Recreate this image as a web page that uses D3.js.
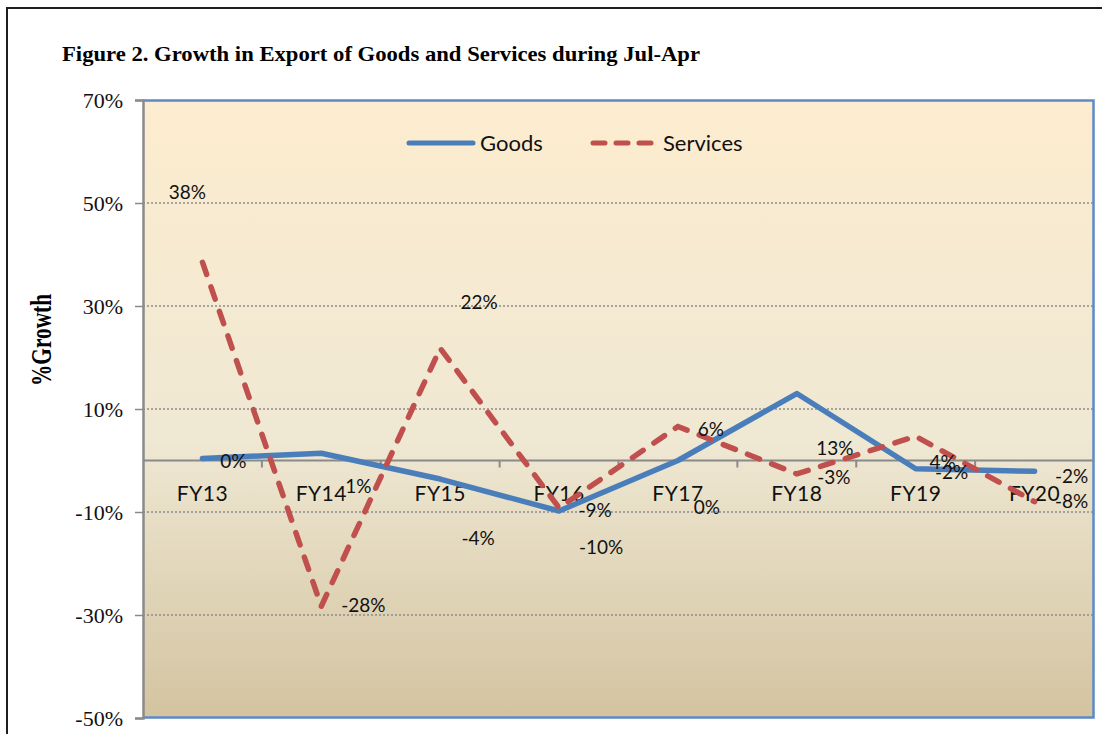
<!DOCTYPE html>
<html>
<head>
<meta charset="utf-8">
<script src="https://cdn.jsdelivr.net/npm/d3@7"></script>
<style>
  body { margin: 0; background: #fff; }
  svg { display: block; }
</style>
</head>
<body>
<div id="chart"></div>
<script>
// chart data
var years = ["FY13", "FY14", "FY15", "FY16", "FY17", "FY18", "FY19", "FY20"];
var goods = [0.4, 1.4, -3.6, -9.8, 0.0, 13.0, -1.6, -2.1];
var services = [38.5, -28.3, 21.8, -9.2, 6.6, -2.6, 4.7, -8.0];
var goodsLabels = ["0%", "1%", "-4%", "-10%", "0%", "13%", "-2%", "-2%"];
var servicesLabels = ["38%", "-28%", "22%", "-9%", "6%", "-3%", "4%", "-8%"];
var yTicks = [-50, -30, -10, 10, 30, 50, 70];

// where the data labels were dragged to, relative to their points (pixels)
var goodsNudge = [[31, 3], [37, 33], [38, 59], [42, 36], [29, 47], [38, 55], [36, 4], [37, 5]];
var servicesNudge = [[-15, -70], [42, -1], [39, -46], [36, 2], [33, 3], [37, 3], [27, 26], [37, 0]];

var svgWidth = 1102;
var svgHeight = 734;

var margin = {
  top: 100,
  right: 8,
  bottom: 16,
  left: 143
};

var width = svgWidth - margin.left - margin.right;
var height = svgHeight - margin.top - margin.bottom;

var svg = d3.select("#chart")
  .append("svg")
  .attr("width", svgWidth)
  .attr("height", svgHeight);

// outer frame (only top and left edges visible)
svg.append("path")
  .attr("d", "M7,734 L7,8 L1102,8")
  .attr("fill", "none")
  .attr("stroke", "#1e1e1e")
  .attr("stroke-width", 2);

// title, condensed bold serif
svg.append("text")
  .attr("x", 62)
  .attr("y", 61)
  .attr("font-family", "Liberation Serif")
  .attr("font-weight", "bold")
  .attr("font-size", 22)
  .attr("textLength", 638)
  .attr("lengthAdjust", "spacingAndGlyphs")
  .text("Figure 2. Growth  in Export  of Goods  and Services during Jul-Apr");

// y axis title
svg.append("text")
  .attr("transform", "translate(51, 340) rotate(-90)")
  .attr("text-anchor", "middle")
  .attr("font-family", "Liberation Serif")
  .attr("font-weight", "bold")
  .attr("font-size", 30)
  .attr("textLength", 92)
  .attr("lengthAdjust", "spacingAndGlyphs")
  .text("%Growth");

var defs = svg.append("defs");
var grad = defs.append("linearGradient")
  .attr("id", "plotBg")
  .attr("x1", 0).attr("y1", 0)
  .attr("x2", 0).attr("y2", 1);
grad.append("stop").attr("offset", "0%").attr("stop-color", "#fdeccf");
grad.append("stop").attr("offset", "55%").attr("stop-color", "#efe8d3");
grad.append("stop").attr("offset", "100%").attr("stop-color", "#d3c3a0");

var chartGroup = svg.append("g")
  .attr("transform", `translate(${margin.left}, ${margin.top})`);

// scales
var xBandScale = d3.scaleBand()
  .domain(years)
  .range([0, width])
  .padding(0);

var yLinearScale = d3.scaleLinear()
  .domain([-50, 70])
  .range([height, 0]);

var xCenter = d => xBandScale(d) + xBandScale.bandwidth() / 2;

// plot area
chartGroup.append("rect")
  .attr("x", 0)
  .attr("y", 0)
  .attr("width", width)
  .attr("height", height)
  .attr("fill", "url(#plotBg)");

// dotted gridlines
chartGroup.append("g")
  .selectAll("line")
  .data(yTicks.filter(t => t > -50 && t < 70))
  .enter()
  .append("line")
  .attr("x1", 0)
  .attr("x2", width)
  .attr("y1", d => yLinearScale(d))
  .attr("y2", d => yLinearScale(d))
  .attr("stroke", "#8c8c8c")
  .attr("stroke-width", 1.5)
  .attr("stroke-dasharray", "2,2");

// blue border on top, right, bottom
chartGroup.append("path")
  .attr("d", `M0,0.5 L${width - 0.5},0.5 L${width - 0.5},${height - 0.5} L0,${height - 0.5}`)
  .attr("fill", "none")
  .attr("stroke", "#5d8ac7")
  .attr("stroke-width", 2.5);

// left axis
var leftAxis = d3.axisLeft(yLinearScale)
  .tickValues(yTicks)
  .tickSize(8)
  .tickPadding(12)
  .tickFormat(d => d + "%");

var yAxis = chartGroup.append("g")
  .call(leftAxis);
yAxis.select(".domain").attr("stroke", "#8a8a8a").attr("stroke-width", 2.5);
yAxis.selectAll(".tick line").attr("stroke", "#8a8a8a").attr("stroke-width", 1.5);
yAxis.selectAll(".tick text")
  .attr("font-family", "Liberation Serif")
  .attr("font-size", 22)
  .attr("fill", "#111");

// category axis along zero line
var y0 = yLinearScale(0);
chartGroup.append("line")
  .attr("x1", 0)
  .attr("x2", width)
  .attr("y1", y0)
  .attr("y2", y0)
  .attr("stroke", "#8a8a8a")
  .attr("stroke-width", 2);

chartGroup.append("g")
  .selectAll("line")
  .data(years.slice(1))
  .enter()
  .append("line")
  .attr("x1", d => xBandScale(d))
  .attr("x2", d => xBandScale(d))
  .attr("y1", y0)
  .attr("y2", y0 + 7)
  .attr("stroke", "#8a8a8a")
  .attr("stroke-width", 2);

chartGroup.append("g")
  .selectAll("text")
  .data(years)
  .enter()
  .append("text")
  .attr("x", d => xCenter(d))
  .attr("y", y0 + 40)
  .attr("text-anchor", "middle")
  .attr("font-family", "Lato")
  .attr("font-size", 21)
  .attr("letter-spacing", 0.5)
  .attr("fill", "#111")
  .text(d => d);

// lines
var valueLine = d3.line()
  .x((d, i) => xCenter(years[i]))
  .y(d => yLinearScale(d));

chartGroup.append("path")
  .datum(goods)
  .attr("d", valueLine)
  .attr("fill", "none")
  .attr("stroke", "#4a7ebb")
  .attr("stroke-width", 5.5)
  .attr("stroke-linecap", "round")
  .attr("stroke-linejoin", "round");

chartGroup.append("path")
  .datum(services)
  .attr("d", valueLine)
  .attr("fill", "none")
  .attr("stroke", "#c0504d")
  .attr("stroke-width", 5.5)
  .attr("stroke-linecap", "round")
  .attr("stroke-dasharray", "13,13");

// data labels
function addLabels(values, labels, nudge) {
  chartGroup.append("g")
    .selectAll("text")
    .data(values)
    .enter()
    .append("text")
    .attr("x", (d, i) => xCenter(years[i]) + nudge[i][0])
    .attr("y", (d, i) => yLinearScale(d) + nudge[i][1])
    .attr("dy", "0.35em")
    .attr("text-anchor", "middle")
    .attr("font-family", "Lato")
    .attr("font-size", 19)
    .attr("fill", "#111")
    .text((d, i) => labels[i]);
}
addLabels(goods, goodsLabels, goodsNudge);
addLabels(services, servicesLabels, servicesNudge);

// legend
var legend = svg.append("g");
legend.append("line")
  .attr("x1", 409).attr("x2", 473)
  .attr("y1", 143).attr("y2", 143)
  .attr("stroke", "#4a7ebb")
  .attr("stroke-width", 5)
  .attr("stroke-linecap", "round");
legend.append("text")
  .attr("x", 480)
  .attr("y", 143)
  .attr("dy", "0.35em")
  .attr("font-family", "Lato")
  .attr("font-size", 22)
  .attr("fill", "#111")
  .text("Goods");
legend.append("line")
  .attr("x1", 593).attr("x2", 651)
  .attr("y1", 143).attr("y2", 143)
  .attr("stroke", "#c0504d")
  .attr("stroke-width", 5)
  .attr("stroke-linecap", "round")
  .attr("stroke-dasharray", "12,11");
legend.append("text")
  .attr("x", 663)
  .attr("y", 143)
  .attr("dy", "0.35em")
  .attr("font-family", "Lato")
  .attr("font-size", 22)
  .attr("fill", "#111")
  .text("Services");
</script>
</body>
</html>
